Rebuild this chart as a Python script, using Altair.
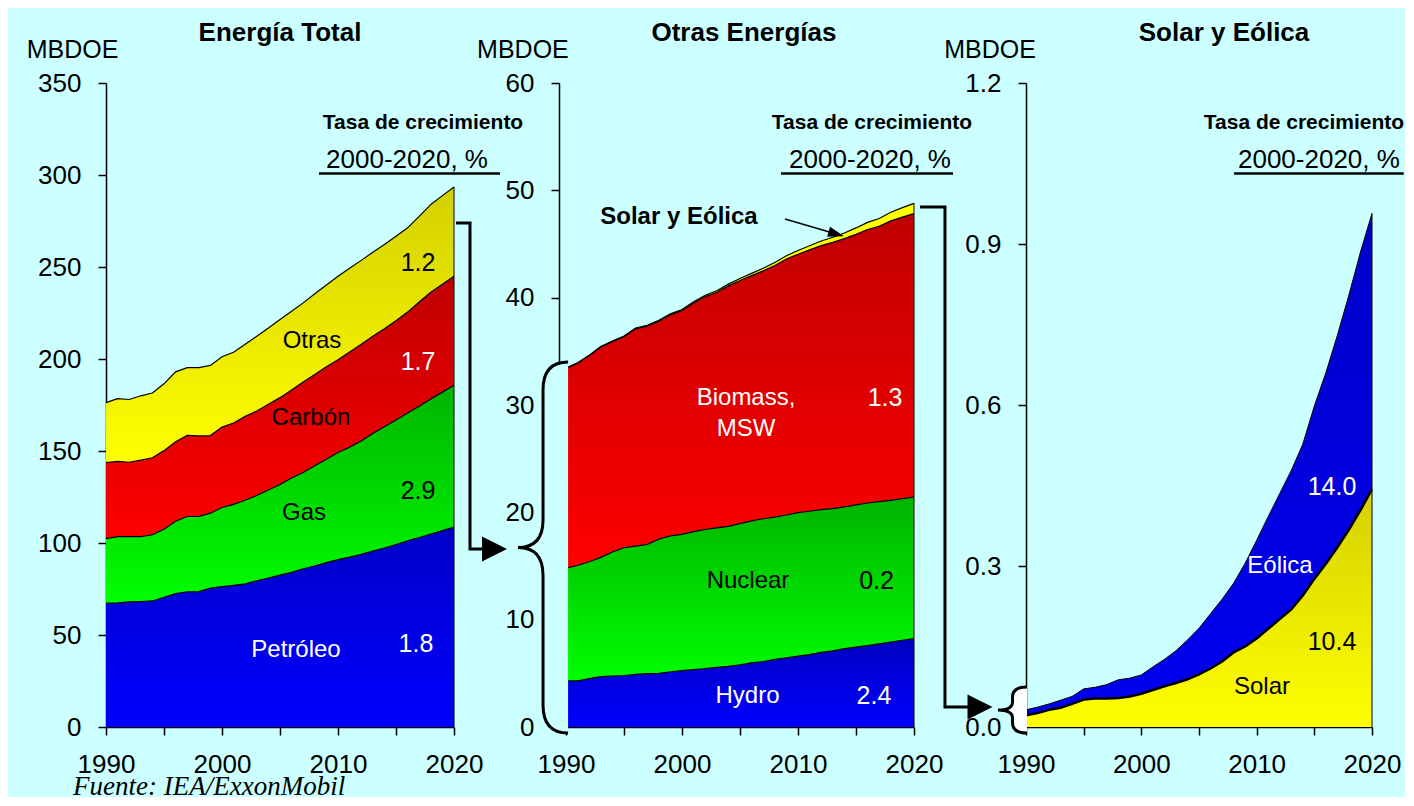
import altair as alt
import pandas as pd

years = list(range(1990, 2021))

# ---- Panel 1: Energía Total (MBDOE) ----
petroleo = [67.3, 67.5, 68.0, 68.2, 68.5, 70.5, 72.5, 73.5, 73.6, 75.5, 76.3, 77.0, 77.8, 79.5, 81.0,
            82.5, 84.0, 86.0, 87.5, 89.3, 91.0, 92.3, 93.8, 95.6, 97.3, 99.2, 101.2, 103.0, 104.8, 106.7, 108.6]
gas = [35.1, 36.0, 35.5, 35.3, 36.0, 37.0, 39.3, 40.9, 40.9, 40.7, 43.0, 44.0, 45.4, 46.3, 47.8,
       49.3, 51.3, 52.3, 54.5, 56.2, 58.2, 59.7, 61.7, 63.9, 65.9, 67.6, 69.4, 71.3, 73.4, 75.3, 77.1]
carbon = [41.3, 40.9, 40.4, 41.5, 41.8, 42.7, 43.2, 44.1, 43.7, 42.2, 43.7, 44.2, 45.6, 45.9, 46.6,
          47.2, 47.9, 49.2, 49.6, 50.3, 50.4, 51.8, 52.5, 52.8, 53.2, 54.0, 54.9, 56.7, 58.1, 58.6, 59.3]
otras = [32.6, 34.1, 34.1, 35.0, 35.2, 36.3, 38.0, 36.8, 37.1, 38.1, 38.2, 38.5, 39.2, 40.7, 41.4,
         42.5, 42.8, 43.0, 43.9, 44.4, 45.4, 45.5, 45.6, 45.7, 45.8, 45.9, 45.8, 46.5, 47.7, 48.2, 48.5]

# ---- Panel 2: Otras Energías ----
hydro = [4.3, 4.3, 4.5, 4.7, 4.75, 4.8, 4.9, 4.97, 5.0, 5.15, 5.25, 5.35, 5.45, 5.55, 5.65,
         5.8, 5.98, 6.1, 6.3, 6.45, 6.6, 6.75, 6.95, 7.1, 7.3, 7.45, 7.58, 7.75, 7.92, 8.08, 8.23]
nuclear = [10.5, 10.75, 10.9, 11.1, 11.55, 11.9, 11.95, 12.03, 12.5, 12.65, 12.7, 12.85, 12.95, 13.0, 13.05,
           13.15, 13.22, 13.3, 13.25, 13.3, 13.37, 13.35, 13.3, 13.25, 13.2, 13.25, 13.29, 13.25, 13.2, 13.2, 13.2]
biomass = [18.6, 18.85, 19.2, 19.6, 19.6, 19.65, 20.25, 20.35, 20.3, 20.6, 20.85, 21.3, 21.7, 21.95, 22.4,
           22.65, 22.85, 23.1, 23.45, 23.85, 24.08, 24.35, 24.6, 24.8, 25.0, 25.2, 25.48, 25.65, 26.03, 26.22, 26.4]

# ---- Panel 3: Solar y Eólica ----
solar = [0.022, 0.026, 0.032, 0.036, 0.043, 0.051, 0.053, 0.053, 0.054, 0.057, 0.062, 0.069, 0.076, 0.082, 0.089,
         0.098, 0.109, 0.122, 0.139, 0.150, 0.165, 0.183, 0.201, 0.219, 0.245, 0.276, 0.304, 0.335, 0.368, 0.404, 0.443]
eolica = [0.010, 0.011, 0.011, 0.014, 0.014, 0.020, 0.021, 0.026, 0.034, 0.034, 0.035, 0.043, 0.050, 0.060, 0.073,
          0.086, 0.102, 0.116, 0.129, 0.155, 0.183, 0.209, 0.234, 0.259, 0.282, 0.322, 0.356, 0.395, 0.437, 0.481, 0.514]
solar_eolica = [round(a + b, 3) for a, b in zip(solar, eolica)]

FONT = "Liberation Sans"
BG = "#CCFFFF"


def grad(top, bottom):
    return alt.Gradient(gradient="linear", x1=0, y1=0, x2=0, y2=1,
                        stops=[alt.GradientStop(color=top, offset=0),
                               alt.GradientStop(color=bottom, offset=1)])


def stacked(names, series):
    rows = []
    base = [0.0] * len(years)
    for name, vals in zip(names, series):
        for i, yr in enumerate(years):
            rows.append({"year": yr, "series": name, "lower": base[i], "upper": base[i] + vals[i]})
        base = [b + v for b, v in zip(base, vals)]
    return pd.DataFrame(rows)


def make_panel(names, series, fills, line_widths, ydom, yticks, yfmt, width, yoffset,
               texts, underline, connector=None, brace=None, extra=None):
    xs = alt.Scale(domain=[1990, 2020], nice=False, zero=False)
    ys = alt.Scale(domain=ydom, nice=False, zero=False)
    xaxis = alt.Axis(values=list(range(1990, 2021, 5)), format="d",
                     labelExpr="datum.value % 10 === 0 ? datum.label : ''",
                     title=None, labelPadding=16, labelFlush=False, labelOverlap=False)
    yaxis = alt.Axis(values=yticks, format=yfmt, title=None, offset=yoffset,
                     labelPadding=17, labelOverlap=False)

    def X(f):
        return alt.X(f, type="quantitative", scale=xs, axis=xaxis)

    def Y(f):
        return alt.Y(f, type="quantitative", scale=ys, axis=yaxis)

    df = stacked(names, series)
    base = alt.Chart(df)
    layers = []
    for name, fill in zip(names, fills):
        layers.append(
            base.transform_filter(alt.datum.series == name)
            .mark_area(fill=fill, opacity=1, strokeWidth=0)
            .encode(x=X("year"), y=Y("upper"), y2=alt.Y2("lower"))
        )
    # right edge
    layers.append(
        base.transform_filter(alt.datum.year == 2020)
        .mark_rule(color="black", strokeWidth=1)
        .encode(x=X("year"), y=Y("lower"), y2=alt.Y2("upper"))
    )
    for name, lw in zip(names, line_widths):
        layers.append(
            base.transform_filter(alt.datum.series == name)
            .mark_line(color="black", strokeWidth=lw)
            .encode(x=X("year"), y=Y("upper"))
        )

    # underline of growth-rate header
    ul = pd.DataFrame([{"x1": underline[0], "x2": underline[1], "y": underline[2]}])
    layers.append(alt.Chart(ul).mark_rule(color="black", strokeWidth=2.5)
                  .encode(x=X("x1"), x2=alt.X2("x2"), y=Y("y")))

    # texts
    for (t, x, y, size, color, weight, extra_props) in texts:
        d = pd.DataFrame([{"t": t, "x": x, "y": y}])
        props = dict(font=FONT, fontSize=size, color=color, fontWeight=weight,
                     align="center", baseline="middle")
        props.update(extra_props)
        layers.append(alt.Chart(d).mark_text(**props)
                      .encode(x=X("x"), y=Y("y"), text="t:N"))

    if connector is not None:
        pts, tip = connector
        cd = pd.DataFrame([{"i": i, "x": p[0], "y": p[1]} for i, p in enumerate(pts)])
        layers.append(alt.Chart(cd).mark_line(color="black", strokeWidth=3, strokeJoin="miter")
                      .encode(x=X("x"), y=Y("y"), order="i:Q"))
        td = pd.DataFrame([{"x": tip[0], "y": tip[1]}])
        layers.append(alt.Chart(td).mark_point(shape="M 1 0 L -1 -1 L -1 1 Z", size=625,
                                               filled=True, color="black", opacity=1)
                      .encode(x=X("x"), y=Y("y")))

    if brace is not None:
        bx, by, path, size, bfill = brace
        bd = pd.DataFrame([{"x": bx, "y": by}])
        layers.append(alt.Chart(bd).mark_point(shape=path, size=size, filled=True, fill=bfill,
                                               stroke="black", strokeWidth=3, opacity=1,
                                               fillOpacity=1, strokeOpacity=1)
                      .encode(x=X("x"), y=Y("y")))

    if extra is not None:
        layers.extend(extra(X, Y))

    return alt.layer(*layers).properties(width=width, height=644)


W, B = "white", "black"
TASA = "Tasa de crecimiento"
RANGO = "2000-2020, %"

# Panel 1
texts1 = [
    ("Energía Total", 2005.0, 377.2, 26, B, "bold", {}),
    ("MBDOE", 1987.11, 367.9, 25, B, "normal", {}),
    (TASA, 2017.33, 328.3, 21, B, "bold", {}),
    (RANGO, 2015.95, 308.2, 26, B, "normal", {}),
    ("Otras", 2007.76, 209.8, 24, B, "normal", {}),
    ("1.2", 2016.9, 252.2, 25, B, "normal", {}),
    ("Carbón", 2007.67, 167.9, 24, B, "normal", {}),
    ("1.7", 2016.9, 198.4, 25, W, "normal", {}),
    ("Gas", 2007.07, 116.3, 24, B, "normal", {}),
    ("2.9", 2016.9, 128.3, 25, B, "normal", {}),
    ("Petróleo", 2006.38, 41.8, 24, W, "normal", {}),
    ("1.8", 2016.72, 45.1, 25, W, "normal", {}),
    ("Fuente: IEA/ExxonMobil", 1987.16, -36.9, 27, B, "normal",
     {"font": "Liberation Serif", "fontStyle": "italic", "align": "left", "baseline": "alphabetic"}),
]
p1 = make_panel(
    ["Petróleo", "Gas", "Carbón", "Otras"], [petroleo, gas, carbon, otras],
    [grad("#0000C8", "#0000FF"), grad("#00B400", "#00FF00"),
     grad("#C00000", "#FF0000"), grad("#D4D000", "#FFFF00")],
    [1.2, 1.2, 1.2, 1.2], [0, 350], list(range(0, 351, 50)), "d", 348, 0,
    texts1, (2008.36, 2023.97, 300.8),
    connector=([(2020.17, 273.9), (2021.38, 273.9), (2021.38, 96.7), (2023.1, 96.7)], (2023.49, 96.7)),
)

# Panel 2
BRACE_BIG = ("M 0.135 -1 Q 0 -1 0 -0.85 L 0 -0.15 Q 0 0 -0.135 0 "
             "Q 0 0 0 0.15 L 0 0.85 Q 0 1 0.135 1")
texts2 = [
    ("Otras Energías", 2005.34, 64.66, 26, B, "bold", {}),
    ("MBDOE", 1986.29, 63.08, 25, B, "normal", {}),
    (TASA, 2016.38, 56.28, 21, B, "bold", {}),
    (RANGO, 2016.21, 52.83, 26, B, "normal", {}),
    ("Solar y Eólica", 1999.74, 47.52, 24, B, "bold", {}),
    ("Biomass,", 2005.52, 30.65, 24, W, "normal", {}),
    ("MSW", 2005.52, 27.77, 24, W, "normal", {}),
    ("1.3", 2017.5, 30.65, 25, W, "normal", {}),
    ("Nuclear", 2005.69, 13.6, 24, B, "normal", {}),
    ("0.2", 2016.77, 13.6, 25, B, "normal", {}),
    ("Hydro", 2005.65, 2.89, 24, W, "normal", {}),
    ("2.4", 2016.55, 2.89, 25, W, "normal", {}),
]


def pointer(X, Y):
    ld = pd.DataFrame([{"i": 0, "x": 2008.88, "y": 47.33}, {"i": 1, "x": 2013.3, "y": 45.93}])
    hd = pd.DataFrame([{"x": 2013.3, "y": 45.93}])
    return [
        alt.Chart(ld).mark_line(color="black", strokeWidth=1.5).encode(x=X("x"), y=Y("y"), order="i:Q"),
        alt.Chart(hd).mark_point(shape="M 1 0 L -1 -0.65 L -1 0.65 Z", size=256, angle=16,
                                 filled=True, color="black", opacity=1).encode(x=X("x"), y=Y("y")),
    ]


p2 = make_panel(
    ["Hydro", "Nuclear", "Biomass, MSW", "Solar y Eólica"], [hydro, nuclear, biomass, solar_eolica],
    [grad("#0000C0", "#0000FF"), grad("#00B400", "#00FF00"),
     grad("#C00000", "#FF0000"), "#FFFF00"],
    [1.2, 1.2, 1.2, 1.2], [0, 60], list(range(0, 61, 10)), "d", 348, 7,
    texts2, (2008.53, 2023.36, 51.57),
    connector=([(2020.52, 48.45), (2022.67, 48.45), (2022.67, 1.86), (2025.0, 1.86)], (2025.69, 1.86)),
    brace=(1988.02, 16.72, BRACE_BIG, 137641, BG),
    extra=pointer,
)

# Panel 3
BRACE_SMALL = ("M 0.63 -1 Q 0 -1 0 -0.55 L 0 -0.35 Q 0 0 -0.63 0 "
               "Q 0 0 0 0.35 L 0 0.55 Q 0 1 0.63 1")
texts3 = [
    ("Solar y Eólica", 2007.17, 1.2932, 26, B, "bold", {}),
    ("MBDOE", 1986.88, 1.2615, 25, B, "normal", {}),
    (TASA, 2014.10, 1.1255, 21, B, "bold", {}),
    (RANGO, 2015.4, 1.0565, 26, B, "normal", {}),
    ("14.0", 2016.53, 0.4472, 25, W, "normal", {}),
    ("Eólica", 2012.02, 0.30, 24, W, "normal", {}),
    ("10.4", 2016.53, 0.1584, 25, B, "normal", {}),
    ("Solar", 2010.46, 0.0745, 24, B, "normal", {}),
]
p3 = make_panel(
    ["Solar", "Eólica"], [solar, eolica],
    [grad("#D4D000", "#FFFF00"), grad("#0000C8", "#0000F0")],
    [2.5, 1.0], [0, 1.2], [0, 0.3, 0.6, 0.9, 1.2], ".1f", 346, 0,
    texts3, (2008.04, 2022.75, 1.0314),
    brace=(1988.83, 0.0317, BRACE_SMALL, 2116, "white"),
)

chart = (
    alt.hconcat(p1, p2, p3, spacing=112, bounds="flush")
    .resolve_scale(x="independent", y="independent")
    .properties(background=BG, padding={"left": 18, "top": 11, "right": 0, "bottom": -3})
    .configure_view(stroke=None)
    .configure_axis(domainColor="black", tickColor="black", labelColor="black",
                    labelFont=FONT, labelFontSize=26, domainWidth=1.5, tickWidth=1.5,
                    tickSize=8, grid=False)
)

chart.save("out.html", embed_options={"renderer": "svg", "actions": False})
